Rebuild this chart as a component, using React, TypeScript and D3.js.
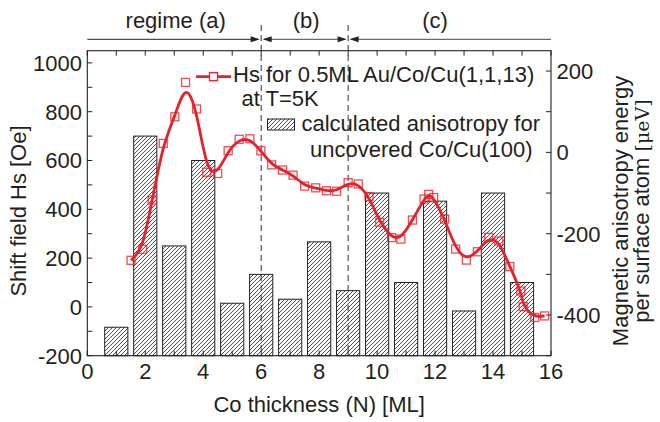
import React, { useEffect } from "react";
import * as d3 from "d3";

const W = 660;
const H = 422;

// calculated anisotropy (right axis, µeV)
const barN = [1, 2, 3, 4, 5, 6, 7, 8, 9, 10, 11, 12, 13, 14, 15];
const barMAE = [-430, 40, -230, -20, -371, -300, -361, -220, -340, -100, -320, -120, -390, -100, -320];

// Hs measured (left axis, Oe)
const hsN = [1.51, 1.91, 2.24, 2.62, 3.02, 3.39, 3.77, 4.12, 4.5, 4.86, 5.24, 5.61, 5.99, 6.36, 6.74, 7.1, 7.5, 7.88, 8.25, 8.6, 9.0, 9.35, 9.72, 10.09, 10.5, 10.82, 11.22, 11.62, 11.78, 11.95, 12.33, 12.71, 13.08, 13.46, 13.85, 14.2, 14.58, 14.96, 15.04, 15.44, 15.78];
const hsVal = [191, 236, 438, 670, 779, 920, 811, 552, 547, 640, 687, 689, 640, 582, 561, 540, 495, 488, 476, 474, 509, 504, 452, 347, 284, 278, 356, 442, 461, 448, 360, 237, 192, 226, 285, 270, 165, 65, 1, -43, -37];

const xTicks = d3.range(0, 17, 1);
const xLabels = [0, 2, 4, 6, 8, 10, 12, 14, 16];
const yLeftTicks = d3.range(-200, 1001, 100);
const yLeftLabels = [-200, 0, 200, 400, 600, 800, 1000];
const yRightTicks = d3.range(-500, 201, 100);
const yRightLabels = [-400, -200, 0, 200];
const regimeBounds = [6, 9];
const regimeLabels = ["regime (a)", "(b)", "(c)"];
const regimeLabelPos = [3.05, 7.55, 12.0];

const FONT = "'Liberation Sans', Arial, sans-serif";
const TXT = "#231f20";
const RED = "#e8202a";

export default function App() {
  useEffect(() => {
    document.body.style.margin = "0";
  }, []);

  const left = 87.3, right = 551, top = 50.7, bottom = 355.7;
  const x = d3.scaleLinear().domain([0, 16]).range([left, right]);
  const yL = d3.scaleLinear().domain([-200, 1050]).range([bottom, top]);
  const yR = d3.scaleLinear().domain([-500, 250]).range([bottom, top]);

  const pts: [number, number][] = hsN.map((n, i) => [n, hsVal[i]]);
  const line = d3
    .line<[number, number]>()
    .x((d) => x(d[0]))
    .y((d) => yL(d[1]))
    .curve(d3.curveBasis);

  const barW = x(0.8) - x(0);
  const tick = 5;
  const arrowY = 39.3;
  const ah = 9, aw = 3;
  const xa = x(regimeBounds[0]);
  const xb = x(regimeBounds[1]);
  const headR = (px: number) => `M${px},${arrowY} L${px - ah},${arrowY - aw} L${px - ah},${arrowY + aw} Z`;
  const headL = (px: number) => `M${px},${arrowY} L${px + ah},${arrowY - aw} L${px + ah},${arrowY + aw} Z`;

  const sq = 8;

  return (
    <svg width={W} height={H} style={{ position: "absolute", left: 0, top: 0, background: "#fff" }} fontFamily={FONT}>
      <defs>
        <pattern id="hatch" patternUnits="userSpaceOnUse" width="4" height="4">
          <path d="M-1,1 L1,-1 M0,4 L4,0 M3,5 L5,3" stroke="#222" strokeWidth="0.8" />
        </pattern>
      </defs>
      <rect x={0} y={0} width={W} height={H} fill="#fff" />

      {/* bars */}
      {barN.map((n, i) => (
        <rect
          key={"b" + i}
          x={x(n) - barW / 2}
          y={yR(barMAE[i])}
          width={barW}
          height={bottom - yR(barMAE[i])}
          fill="url(#hatch)"
          stroke="#222"
          strokeWidth={1}
        />
      ))}

      {/* frame */}
      <rect x={left} y={top} width={right - left} height={bottom - top} fill="none" stroke="#222" strokeWidth={1.1} />

      {/* x ticks bottom & top */}
      {xTicks.map((t) => (
        <g key={"xt" + t}>
          <line x1={x(t)} x2={x(t)} y1={bottom} y2={bottom - tick} stroke="#222" />
          <line x1={x(t)} x2={x(t)} y1={top} y2={top + tick} stroke="#222" />
        </g>
      ))}
      {xLabels.map((t) => (
        <text key={"xl" + t} x={x(t)} y={378.5} textAnchor="middle" fontSize={22} fill={TXT}>
          {t}
        </text>
      ))}
      <text x={(left + right) / 2} y={412} textAnchor="middle" fontSize={22} fill={TXT}>
        Co thickness (N) [ML]
      </text>

      {/* left axis */}
      {yLeftTicks.map((t) => (
        <line key={"yl" + t} x1={left} x2={left + tick} y1={yL(t)} y2={yL(t)} stroke="#222" />
      ))}
      {yLeftLabels.map((t) => (
        <text key={"yll" + t} x={82} y={yL(t) + 7.8} textAnchor="end" fontSize={22} fill={TXT}>
          {t}
        </text>
      ))}
      <text transform={`translate(25.5,211) rotate(-90)`} textAnchor="middle" fontSize={22} fill={TXT}>
        Shift field Hs [Oe]
      </text>

      {/* right axis */}
      {yRightTicks.map((t) => (
        <line key={"yr" + t} x1={right} x2={right - tick} y1={yR(t)} y2={yR(t)} stroke="#222" />
      ))}
      {yRightLabels.map((t) => (
        <text key={"yrl" + t} x={556.5} y={yR(t) + 7.8} textAnchor="start" fontSize={22} fill={TXT}>
          {t}
        </text>
      ))}
      <text transform={`translate(627.5,211) rotate(-90)`} textAnchor="middle" fontSize={22} fill={TXT}>
        Magnetic anisotropy energy
      </text>
      <text transform={`translate(648.5,211) rotate(-90)`} textAnchor="middle" fontSize={22} fill={TXT}>
        per surface atom <tspan fontFamily="'DejaVu Serif', serif" fontSize={19}>[μeV]</tspan>
      </text>

      {/* regime dashed lines */}
      {regimeBounds.map((b) => (
        <line key={"rb" + b} x1={x(b)} x2={x(b)} y1={25} y2={bottom} stroke="#333" strokeWidth={1} strokeDasharray="6,4" />
      ))}

      {/* regime arrows */}
      <line x1={left} x2={xa - 3} y1={arrowY} y2={arrowY} stroke="#222" strokeWidth={1} />
      <path d={headR(xa - 1.5)} fill="#222" />
      <line x1={xa + 3} x2={xb - 3} y1={arrowY} y2={arrowY} stroke="#444" strokeWidth={1} />
      <path d={headL(xa + 1.5)} fill="#222" />
      <path d={headR(xb - 1.5)} fill="#222" />
      <line x1={xb + 3} x2={right} y1={arrowY} y2={arrowY} stroke="#444" strokeWidth={1} />
      <path d={headL(xb + 1.5)} fill="#222" />
      {regimeLabels.map((l, i) => (
        <text key={"rl" + i} x={x(regimeLabelPos[i])} y={28} textAnchor="middle" fontSize={22} fill={TXT}>
          {l}
        </text>
      ))}

      {/* Hs curve */}
      <path d={line(pts) || ""} fill="none" stroke={RED} strokeWidth={2.8} strokeLinejoin="round" />
      {pts.map((p, i) => (
        <rect
          key={"p" + i}
          x={x(p[0]) - sq / 2}
          y={yL(p[1]) - sq / 2}
          width={sq}
          height={sq}
          fill="none"
          stroke={RED}
          strokeOpacity={0.8}
          strokeWidth={1.3}
        />
      ))}

      {/* legend */}
      <line x1={196} x2={231} y1={76.7} y2={76.7} stroke={RED} strokeWidth={2.8} />
      <rect x={213.5 - sq / 2} y={76.7 - sq / 2} width={sq} height={sq} fill="#fff" stroke={RED} strokeWidth={1.3} />
      <text x={233} y={81.5} fontSize={22} fill={TXT}>
        Hs for 0.5ML Au/Co/Cu(1,1,13)
      </text>
      <text x={241.5} y={105.5} fontSize={22} fill={TXT}>
        at T=5K
      </text>
      <rect x={267.5} y={119} width={27} height={11} fill="url(#hatch)" stroke="#222" strokeWidth={1} />
      <text x={301.5} y={130.5} fontSize={22} fill={TXT}>
        calculated anisotropy for
      </text>
      <text x={310} y={157} fontSize={22} fill={TXT}>
        uncovered Co/Cu(100)
      </text>
    </svg>
  );
}
